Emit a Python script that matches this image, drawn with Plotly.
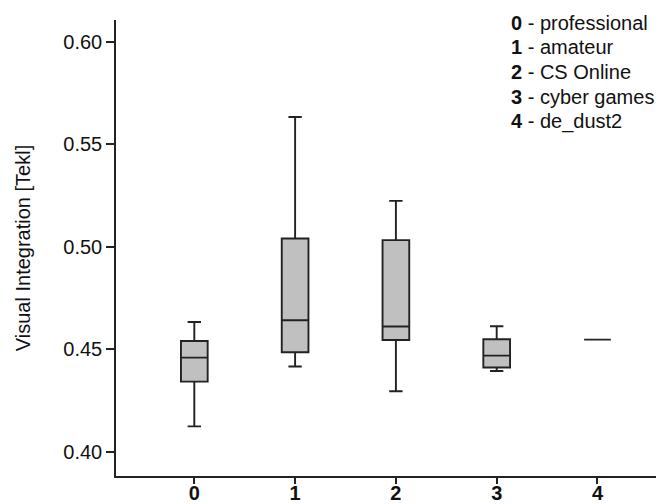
import plotly.graph_objects as go

# Data
categories = [0, 1, 2, 3, 4]
tick_labels = ["0", "1", "2", "3", "4"]
group_names = ["professional", "amateur", "CS Online", "cyber games", "de_dust2"]
lower_whisker = [0.4125, 0.4417, 0.4296, 0.4395, 0.4548]
q1_values = [0.4343, 0.4486, 0.4546, 0.4412, 0.4548]
median_values = [0.4460, 0.4642, 0.4612, 0.4470, 0.4548]
q3_values = [0.4541, 0.5041, 0.5033, 0.4550, 0.4548]
upper_whisker = [0.4634, 0.5633, 0.5224, 0.4613, 0.4548]
y_ticks = [0.40, 0.45, 0.50, 0.55, 0.60]

FONT = "Liberation Sans, Arial, sans-serif"
FS = 20
# The page body has an 8px margin, so the figure is drawn 8px in from the top-left.
W, H = 656, 496
ML, MT, MB, MR = 108, 12, 28, 0
plot_h = H - MT - MB

fig = go.Figure()
fig.add_trace(go.Box(
    x=categories,
    q1=q1_values,
    median=median_values,
    q3=q3_values,
    lowerfence=lower_whisker,
    upperfence=upper_whisker,
    width=0.265,
    whiskerwidth=0.5,
    fillcolor="#c0c0c0",
    line=dict(color="#222222", width=1.9),
    boxpoints=False,
    showlegend=False,
    hoverinfo="skip",
))

# key text at the top right, one line per group
first_line_px = 14.7   # centre of first line, measured from figure top
line_step_px = 24.75
for i, (t, n) in enumerate(zip(tick_labels, group_names)):
    y_px = first_line_px + i * line_step_px
    fig.add_annotation(
        text=f"<b>{t}</b> - {n}",
        xref="paper", yref="paper",
        x=(509 - 8 - ML) / (W - ML - MR), y=(H - MB - y_px) / plot_h,
        xanchor="left", yanchor="middle",
        align="left",
        showarrow=False,
        font=dict(family=FONT, size=FS, color="#111111"),
    )

fig.update_layout(
    width=W, height=H,
    margin=dict(l=ML, r=MR, t=MT, b=MB, autoexpand=False),
    plot_bgcolor="white",
    paper_bgcolor="white",
    font=dict(family=FONT, size=FS, color="#111111"),
    xaxis=dict(
        range=[-0.777, 4.66],
        tickmode="array",
        tickvals=categories,
        ticktext=[f"<b>{t}</b>" for t in tick_labels],
        showline=True, linecolor="#222222", linewidth=1.5,
        ticks="outside", ticklen=6, tickwidth=1.5, tickcolor="#222222",
        ticklabelstandoff=-8,
        showgrid=False, zeroline=False, automargin=False,
        tickfont=dict(family=FONT, size=FS, color="#111111"),
    ),
    yaxis=dict(
        range=[0.3883, 0.6106],
        tickmode="array",
        tickvals=y_ticks,
        ticktext=[f"{v:.2f}" for v in y_ticks],
        showline=True, linecolor="#222222", linewidth=1.5,
        ticks="outside", ticklen=8, tickwidth=1.5, tickcolor="#222222",
        showgrid=False, zeroline=False, automargin=False,
        tickfont=dict(family=FONT, size=FS, color="#111111"),
        title=dict(text="Visual Integration [Tekl]", standoff=27,
                   font=dict(family=FONT, size=FS, color="#111111")),
    ),
)

fig.write_html("out.html")
